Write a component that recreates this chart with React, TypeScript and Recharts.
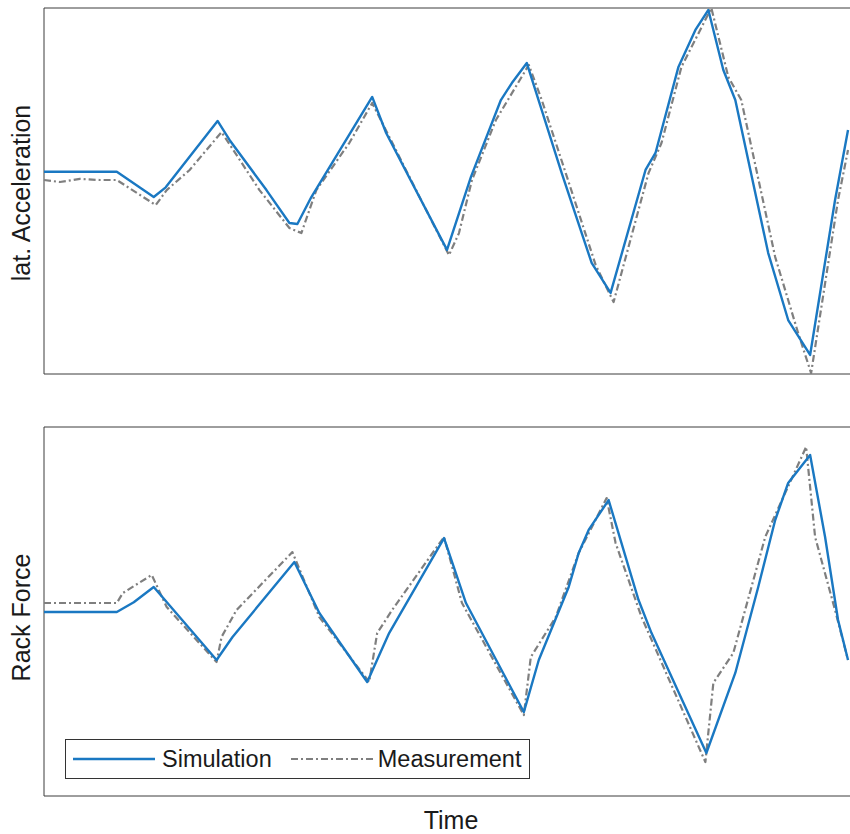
import React from "react";
import {
    LineChart,
    Line,
    XAxis,
    YAxis,
    ReferenceArea,
    Legend,
} from "recharts";

// time samples are in arbitrary units, values normalised to [-1, 1]
const latAccSimulation: [number, number][] = [
    [0, 0.105], [73, 0.105], [110, -0.033], [122, 0.02], [174, 0.383],
    [186, 0.279], [223, 0.005], [246, -0.175], [254, -0.18], [268, -0.033],
    [329, 0.514], [343, 0.317], [369, 0.044], [404, -0.322], [428, 0.077],
    [458, 0.497], [469, 0.59], [484, 0.699], [519, 0.098], [549, -0.393],
    [568, -0.557], [603, 0.115], [613, 0.208], [636, 0.678], [653, 0.88],
    [666, 0.989], [681, 0.661], [693, 0.497], [726, -0.339], [746, -0.705],
    [768, -0.896], [793, -0.049], [806, 0.333],
];

const latAccMeasurement: [number, number][] = [
    [0, 0.06], [16, 0.049], [36, 0.066], [56, 0.06], [73, 0.06],
    [112, -0.077], [123, 0.005], [146, 0.115], [178, 0.322], [216, 0.005],
    [246, -0.202], [258, -0.23], [273, 0.005], [306, 0.262], [329, 0.481],
    [373, 0.005], [406, -0.35], [416, -0.23], [429, 0.06], [453, 0.388],
    [486, 0.689], [499, 0.497], [523, 0.098], [553, -0.404], [571, -0.607],
    [606, 0.098], [619, 0.262], [639, 0.678], [669, 1.0], [686, 0.623],
    [699, 0.497], [733, -0.361], [756, -0.776], [769, -0.995], [796, -0.049],
    [806, 0.224],
];

const rackSimulation: [number, number][] = [
    [0, -0.003], [73, -0.003], [90, 0.05], [110, 0.133], [173, -0.263],
    [189, -0.138], [251, 0.268], [276, -0.008], [324, -0.382], [346, -0.117],
    [401, 0.398], [423, 0.046], [481, -0.545], [496, -0.263], [526, 0.133],
    [536, 0.317], [546, 0.442], [566, 0.604], [596, 0.062], [609, -0.117],
    [664, -0.767], [693, -0.333], [716, 0.133], [733, 0.496], [746, 0.697],
    [768, 0.848], [783, 0.404], [796, -0.046], [806, -0.263],
];

const rackMeasurement: [number, number][] = [
    [0, 0.046], [73, 0.046], [79, 0.1], [108, 0.198], [123, 0.024],
    [173, -0.274], [178, -0.138], [193, 0.008], [249, 0.322], [276, -0.03],
    [326, -0.382], [334, -0.117], [349, 0.008], [401, 0.404], [419, 0.046],
    [481, -0.561], [488, -0.247], [513, -0.03], [536, 0.317], [564, 0.615],
    [573, 0.371], [599, -0.03], [663, -0.816], [671, -0.387], [691, -0.225],
    [723, 0.404], [764, 0.892], [773, 0.404], [793, 0.008], [806, -0.263],
];

const seriesNames = ["Simulation", "Measurement"];

const toPoints = (arr: [number, number][]) => arr.map(([t, v]) => ({ t, v }));

const SIM_COLOR = "#1a78c2";
const MEAS_COLOR = "#7f7f7f";
const MEAS_DASH = "7 3 2 3";
const FONT = "'Liberation Sans', Arial, Helvetica, sans-serif";
const TEXT_COLOR = "#1a1a1a";

const renderLegend = () => (
    <div
        style={{
            width: 465,
            height: 40,
            boxSizing: "border-box",
            border: "1px solid #333",
            background: "#fff",
            display: "flex",
            alignItems: "center",
            fontFamily: FONT,
            fontSize: 23.5,
            color: TEXT_COLOR,
            paddingLeft: 7,
            whiteSpace: "nowrap",
        }}
    >
        <svg width={82} height={10}>
            <line x1={0} y1={5} x2={82} y2={5} stroke={SIM_COLOR} strokeWidth={2.4} />
        </svg>
        <span style={{ marginLeft: 7 }}>{seriesNames[0]}</span>
        <svg width={82} height={10} style={{ marginLeft: 19 }}>
            <line x1={0} y1={5} x2={82} y2={5} stroke={MEAS_COLOR} strokeWidth={2.2} strokeDasharray={MEAS_DASH} />
        </svg>
        <span style={{ marginLeft: 5 }}>{seriesNames[1]}</span>
    </div>
);

const yLabel = (text: string, shift: number) => (props: any) => {
    const vb = props.viewBox || { x: 0, y: 0, width: 0, height: 0 };
    const cx = 21;
    const cy = vb.y + vb.height / 2 + shift;
    return (
        <text
            x={cx}
            y={cy}
            transform={`rotate(-90 ${cx} ${cy})`}
            textAnchor="middle"
            dominantBaseline="central"
            fontFamily={FONT}
            fontSize={25}
            fill={TEXT_COLOR}
        >
            {text}
        </text>
    );
};

function Panel({
    label,
    labelShift,
    sim,
    meas,
    height,
    margin,
    showTime,
}: {
    label: string;
    labelShift: number;
    sim: [number, number][];
    meas: [number, number][];
    height: number;
    margin: { top: number; right: number; left: number; bottom: number };
    showTime?: boolean;
}) {
    return (
        <LineChart width={870} height={height} margin={margin}>
            <XAxis
                dataKey="t"
                type="number"
                domain={[0, 816]}
                hide={!showTime}
                height={showTime ? 38 : 0}
                tick={false}
                tickLine={false}
                axisLine={false}
                label={
                    showTime
                        ? {
                              value: "Time",
                              position: "insideBottom",
                              offset: 5,
                              style: { fontFamily: FONT, fontSize: 25, fill: TEXT_COLOR },
                          }
                        : undefined
                }
            />
            <YAxis
                type="number"
                domain={[-1, 1]}
                allowDataOverflow
                width={42}
                tick={false}
                tickLine={false}
                axisLine={false}
                label={{ content: yLabel(label, labelShift) }}
            />
            <ReferenceArea
                x1={0}
                x2={816}
                y1={-1}
                y2={1}
                fill="none"
                fillOpacity={0}
                stroke="#3c3c3c"
                strokeWidth={1}
            />
            <Line
                data={toPoints(meas)}
                dataKey="v"
                type="linear"
                stroke={MEAS_COLOR}
                strokeWidth={2.2}
                strokeDasharray={MEAS_DASH}
                strokeLinejoin="round"
                dot={false}
                activeDot={false}
                isAnimationActive={false}
            />
            <Line
                data={toPoints(sim)}
                dataKey="v"
                type="linear"
                stroke={SIM_COLOR}
                strokeWidth={2.4}
                strokeLinejoin="round"
                dot={false}
                activeDot={false}
                isAnimationActive={false}
            />
            {showTime && (
                <Legend
                    content={renderLegend}
                    layout="horizontal"
                    verticalAlign="middle"
                    align="center"
                    wrapperStyle={{ left: 65, top: 320, width: 465, height: 40 }}
                />
            )}
        </LineChart>
    );
}

export default function App() {
    return (
        <div
            style={{
                position: "absolute",
                left: 0,
                top: 0,
                width: 850,
                height: 834,
                overflow: "hidden",
                background: "#fff",
            }}
        >
            <div style={{ position: "absolute", left: 0, top: 0 }}>
                <Panel
                    label="lat. Acceleration"
                    labelShift={2}
                    sim={latAccSimulation}
                    meas={latAccMeasurement}
                    height={380}
                    margin={{ top: 8, right: 12, left: 2, bottom: 6 }}
                />
            </div>
            <div style={{ position: "absolute", left: 0, top: 419 }}>
                <Panel
                    label="Rack Force"
                    labelShift={6}
                    sim={rackSimulation}
                    meas={rackMeasurement}
                    height={415}
                    margin={{ top: 8, right: 12, left: 2, bottom: 0 }}
                    showTime
                />
            </div>
        </div>
    );
}
